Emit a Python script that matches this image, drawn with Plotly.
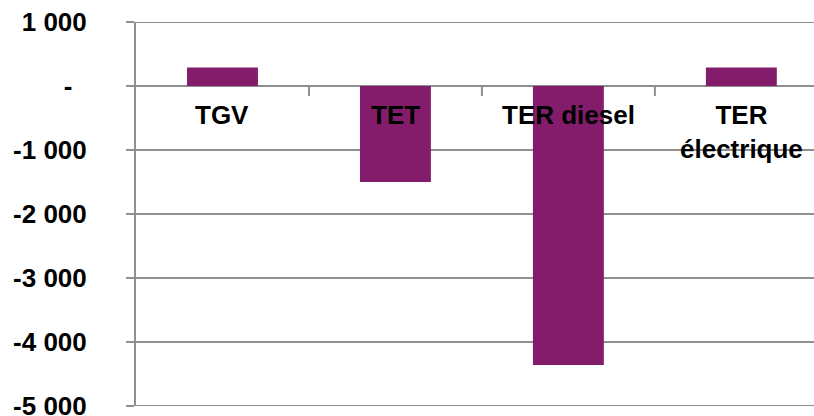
import plotly.graph_objects as go

categories = ["TGV", "TET", "TER diesel", "TER<br>électrique"]
values = [290, -1500, -4360, 290]
y_tickvals = [1000, 0, -1000, -2000, -3000, -4000, -5000]
y_ticktext = ["1 000", "-\u00a0\u00a0", "-1 000", "-2 000", "-3 000", "-4 000", "-5 000"]

y_min, y_max = -5000, 1000
x_range = [-0.5, 3.42]
bar_color = "#831c6a"
grid_color = "#8f8f8f"
font_family = "Liberation Sans, Arial, sans-serif"
label_font = dict(family=font_family, size=26, color="black", weight="bold")

fig = go.Figure()
fig.add_trace(
    go.Bar(x=categories, y=values, marker=dict(color=bar_color, line=dict(width=0)), width=0.41)
)

# horizontal gridlines at each y tick (drawn below the bars)
for v in y_tickvals:
    fig.add_shape(
        type="line", xref="paper", yref="y", x0=0, x1=1, y0=v, y1=v,
        line=dict(color=grid_color, width=2), layer="below",
    )

# category labels just under the zero line, drawn above the bars
for cat in categories:
    fig.add_annotation(
        x=cat, y=0, xref="x", yref="y", text=cat, showarrow=False,
        xanchor="center", yanchor="top", yshift=-12, font=label_font,
    )

# tick marks between categories on the zero line
for i in range(len(categories) - 1):
    fig.add_shape(
        type="line", xref="x", yref="y", x0=i + 0.5, x1=i + 0.5,
        ysizemode="pixel", yanchor=0, y0=0, y1=-10,
        line=dict(color=grid_color, width=2), layer="above",
    )

fig.update_layout(
    width=814, height=416,
    margin=dict(l=136, r=0, t=22, b=10),
    paper_bgcolor="white", plot_bgcolor="white",
    showlegend=False,
    xaxis=dict(
        range=x_range, showticklabels=False, ticks="",
        showline=False, showgrid=False, zeroline=False, automargin=False,
    ),
    yaxis=dict(
        range=[y_min, y_max],
        tickmode="array", tickvals=y_tickvals, ticktext=y_ticktext,
        showgrid=True, gridcolor=grid_color, gridwidth=2,
        zeroline=True, zerolinecolor=grid_color, zerolinewidth=2,
        showline=True, linecolor=grid_color, linewidth=2,
        ticks="outside", ticklen=8, tickcolor=grid_color, tickwidth=2,
        tickfont=label_font, automargin=False,
        ticklabelstandoff=34, ticklabeloverflow="allow",
    ),
)

fig.write_html("out.html")
